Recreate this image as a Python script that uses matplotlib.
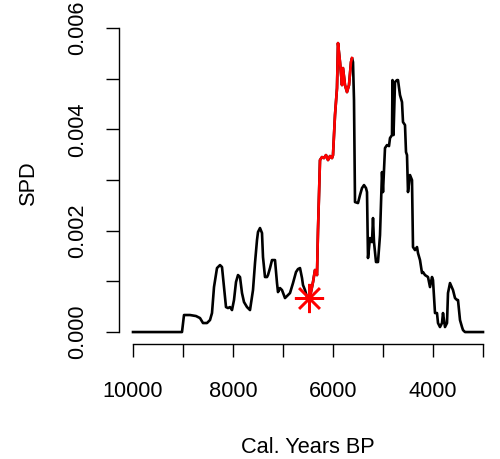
import matplotlib
matplotlib.use("Agg")
import matplotlib.pyplot as plt
import numpy as np

plt.rcParams["font.family"] = ["Liberation Sans", "DejaVu Sans"]

# summed probability distribution (SPD in units of 1e-3)
years = [10000, 9020, 8980, 8860, 8740, 8660, 8600, 8520, 8460, 8420, 8380, 8320,
         8260, 8220, 8180, 8140, 8100, 8060, 8020, 7980, 7940, 7900, 7860, 7820,
         7780, 7720, 7660, 7600, 7560, 7520, 7500, 7460, 7420, 7400, 7360, 7320,
         7300, 7260, 7220, 7160, 7120, 7100, 7060, 7020, 6960, 6900, 6860, 6800,
         6740, 6700, 6660, 6620, 6600, 6560, 6520, 6480, 6440, 6400, 6360, 6340,
         6320, 6300, 6260, 6220, 6180, 6140, 6100, 6060, 6020, 6000, 5960, 5920,
         5900, 5860, 5820, 5800, 5760, 5720, 5680, 5640, 5620, 5600, 5580, 5560,
         5500, 5460, 5420, 5380, 5340, 5320, 5300, 5260, 5220, 5200, 5180, 5140,
         5100, 5060, 5020, 5000, 4960, 4920, 4880, 4860, 4820, 4810, 4790, 4760,
         4720, 4700, 4660, 4620, 4600, 4560, 4540, 4520, 4500, 4460, 4420, 4400,
         4360, 4320, 4300, 4260, 4220, 4200, 4160, 4100, 4060, 4020, 4000, 3960,
         3920, 3900, 3860, 3820, 3800, 3760, 3720, 3700, 3660, 3600, 3560, 3520,
         3500, 3460, 3420, 3400, 3360, 3000]
spd_e3 = [0, 0, 0.336, 0.336, 0.316, 0.276, 0.178, 0.178, 0.237, 0.375, 0.888, 1.263,
          1.322, 1.283, 0.888, 0.493, 0.474, 0.493, 0.434, 0.632, 0.987, 1.125, 1.086, 0.770,
          0.592, 0.493, 0.434, 0.829, 1.362, 1.816, 1.974, 2.053, 1.954, 1.480, 1.086, 1.086,
          1.125, 1.263, 1.421, 1.421, 0.967, 0.789, 0.868, 0.829, 0.671, 0.730, 0.770, 0.967,
          1.184, 1.243, 1.263, 1.066, 0.928, 0.829, 0.691, 0.671, 0.789, 0.987, 1.224, 1.184,
          1.125, 2.013, 3.395, 3.454, 3.434, 3.493, 3.395, 3.474, 3.434, 3.493, 4.283, 4.816,
          5.704, 5.329, 4.875, 5.211, 4.875, 4.737, 4.875, 5.329, 5.408, 5.329, 4.579, 2.566,
          2.546, 2.704, 2.842, 2.901, 2.842, 2.763, 1.461, 1.855, 1.776, 2.250, 1.776, 1.382,
          1.382, 1.914, 3.158, 2.763, 3.632, 3.691, 3.671, 3.829, 3.888, 4.974, 3.888, 4.934,
          4.974, 4.974, 4.678, 4.539, 4.145, 4.086, 3.553, 3.493, 2.763, 3.099, 3.000, 1.678,
          1.618, 1.678, 1.559, 1.421, 1.164, 1.184, 1.125, 1.086, 0.888, 1.086, 1.026, 0.375,
          0.375, 0.178, 0.099, 0.178, 0.375, 0.099, 0.178, 0.770, 0.967, 0.829, 0.671, 0.632,
          0.632, 0.237, 0.099, 0.039, 0, 0]

# highlighted window and its starting point
window = (6480, 5620)
start_year = 6480
start_spd = 0.000671

x = np.array(years, dtype=float)
y = np.array(spd_e3) * 1e-3
sel = (x <= window[0]) & (x >= window[1])

fig = plt.figure(figsize=(5, 4.59), dpi=100)
ax = fig.add_axes([119 / 500, 115 / 459, 378 / 500, 323 / 459])

ax.plot(x, y, color="black", lw=1.9, solid_joinstyle="round")
ax.plot(x[sel], y[sel], color="red", lw=1.9, solid_joinstyle="round")
ax.plot([start_year], [start_spd], marker=(8, 2, 0), ms=21, mew=1.8,
        color="red", linestyle="none")

ax.set_xlim(10280, 2720)
ax.set_ylim(-0.000236, 0.00614)

for s in ["top", "right"]:
    ax.spines[s].set_visible(False)
ax.spines["bottom"].set_bounds(10000, 3000)
ax.spines["left"].set_bounds(0, 0.006)
for s in ["bottom", "left"]:
    ax.spines[s].set_linewidth(1.0)

xt = list(range(10000, 2999, -1000))
ax.set_xticks(xt)
ax.set_xticklabels([str(v) if v % 2000 == 0 else "" for v in xt])
yt = [0, 0.001, 0.002, 0.003, 0.004, 0.005, 0.006]
ax.set_yticks(yt)
ax.set_yticklabels([f"{v:.3f}" if round(v * 1000) % 2 == 0 else "" for v in yt],
                   rotation=90, va="center")

ax.tick_params(axis="both", direction="out", length=9.5, width=1.0,
               labelsize=15.7, color="black")
ax.tick_params(axis="x", pad=17)
ax.tick_params(axis="y", pad=13)

ax.set_xlabel("Cal. Years BP", fontsize=15.7, labelpad=25)
ax.set_ylabel("SPD", fontsize=15.7, labelpad=20)

fig.savefig("out.png", dpi=100)
